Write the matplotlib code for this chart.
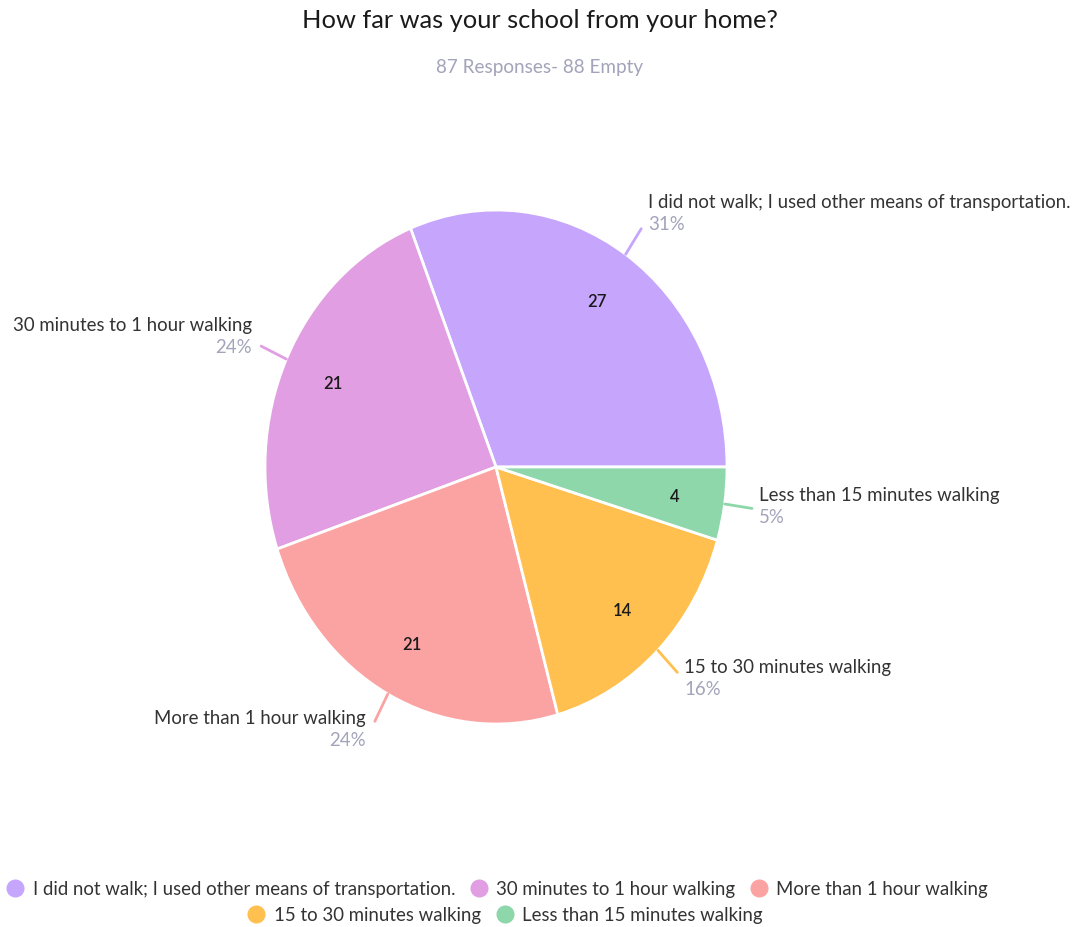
import numpy as np
import matplotlib.pyplot as plt
from matplotlib.lines import Line2D

# data
categories = [
    "I did not walk; I used other means of transportation.",
    "30 minutes to 1 hour walking",
    "More than 1 hour walking",
    "15 to 30 minutes walking",
    "Less than 15 minutes walking",
]
counts = [27, 21, 21, 14, 4]
title = "How far was your school from your home?"
subtitle = "87 Responses- 88 Empty"

colors = ["#C6A6FD", "#E19EE2", "#FBA3A3", "#FFC04F", "#8DD7AA"]
pct_color = "#A3A3BA"
text_color = "#333333"

plt.rcParams["font.family"] = ["Lato", "DejaVu Sans"]

W, H = 1080, 928
fig = plt.figure(figsize=(W / 100, H / 100), dpi=100)
ax = fig.add_axes([0, 0, 1, 1])

# pie is slightly stretched vertically in the reference
cx, cy, rx, ry = 496, 468, 231, 257
total = sum(counts)

wedges, texts, autotexts = ax.pie(
    counts, colors=colors, startangle=0, counterclock=True,
    autopct=lambda p: f"{round(p * total / 100)}", pctdistance=0.78,
    wedgeprops=dict(edgecolor="white", linewidth=2),
    textprops=dict(fontsize=12, color="#1a1a1a", fontweight="semibold"),
)
ax.set_aspect("auto")
ax.set_xlim(-cx / rx, (W - cx) / rx)
ax.set_ylim(-(H - cy) / ry, cy / ry)
ax.axis("off")

# outer labels with leader lines
for w, name, n, col in zip(wedges, categories, counts, colors):
    ang = np.deg2rad((w.theta1 + w.theta2) / 2)
    c, s = np.cos(ang), np.sin(ang)
    ax.plot([c, 1.12 * c], [s, 1.12 * s], color=col, lw=2, solid_capstyle="round")
    end = (1.12 * c, 1.12 * s)
    right = c > 0
    dx = 7 if right else -9
    ha = "left" if right else "right"
    mid = 4.9 + 13.4 * s
    ax.annotate(name, xy=end, xytext=(dx, mid + 11), textcoords="offset pixels",
                ha=ha, va="center", fontsize=13.4, color=text_color)
    ax.annotate(f"{round(100 * n / total)}%", xy=end, xytext=(dx, mid - 11),
                textcoords="offset pixels", ha=ha, va="center",
                fontsize=13.4, color=pct_color)

fig.text(0.5, 1 - 21 / H, title, ha="center", va="center", fontsize=18.3, color="#1a1a1a")
fig.text(0.5, 1 - 67 / H, subtitle, ha="center", va="center", fontsize=13.6, color=pct_color)

# legend in two centred rows
handles = [Line2D([], [], marker="o", ls="", markersize=12, markerfacecolor=col,
                  markeredgecolor=col) for col in colors]
leg_kw = dict(loc="center", frameon=False, fontsize=13.4, handletextpad=0.45,
              columnspacing=0.75, handlelength=1.0, labelcolor=text_color)
leg1 = fig.legend(handles[:3], categories[:3], ncol=3,
                  bbox_to_anchor=(497 / W, 1 - 890 / H), **leg_kw)
fig.legend(handles[3:], categories[3:], ncol=2,
           bbox_to_anchor=(505 / W, 1 - 916 / H), **leg_kw)

fig.savefig("out.png", dpi=100, facecolor="white")
